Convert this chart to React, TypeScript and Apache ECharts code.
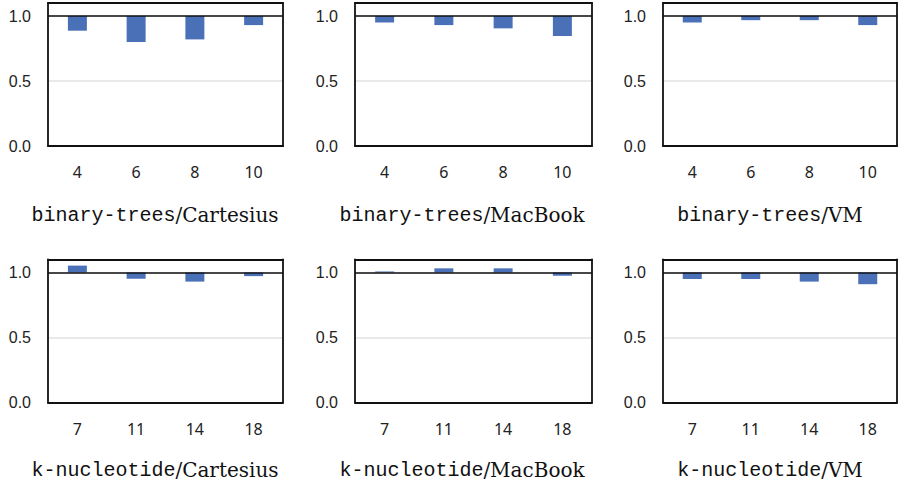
import React, { useEffect, useRef } from "react";
import * as echarts from "echarts";

const catsBT = ["4", "6", "8", "10"];
const catsKN = ["7", "11", "14", "18"];

const btCartesius = [0.887, 0.8, 0.82, 0.93];
const btMacBook = [0.95, 0.93, 0.905, 0.846];
const btVM = [0.95, 0.968, 0.968, 0.93];
const knCartesius = [1.053, 0.952, 0.93, 0.972];
const knMacBook = [1.008, 1.032, 1.032, 0.975];
const knVM = [0.95, 0.95, 0.93, 0.91];

const benchNames = ["binary-trees", "binary-trees", "binary-trees", "k-nucleotide", "k-nucleotide", "k-nucleotide"];
const machineNames = ["Cartesius", "MacBook", "VM", "Cartesius", "MacBook", "VM"];
const yTicks = [0, 0.5, 1.0];

const panels = [
  { cats: catsBT, vals: btCartesius },
  { cats: catsBT, vals: btMacBook },
  { cats: catsBT, vals: btVM },
  { cats: catsKN, vals: knCartesius },
  { cats: catsKN, vals: knMacBook },
  { cats: catsKN, vals: knVM },
];

const colLefts = [48, 355, 663];
const colWidths = [235, 237, 234];
const rowTops = [3, 259.5];
const gridH = 143;
const titleX = [155, 462, 770];
const titleY = [215, 470];

const frameLine = { show: true, onZero: false, lineStyle: { color: "#111", width: 1.8 } };

export default function App() {
  const ref = useRef<HTMLDivElement>(null);
  useEffect(() => {
    if (!ref.current) return;
    const chart = echarts.init(ref.current, undefined, { renderer: "svg" });
    const grids: any[] = [];
    const xAxes: any[] = [];
    const yAxes: any[] = [];
    const series: any[] = [];
    const graphics: any[] = [];
    panels.forEach((p, i) => {
      const r = Math.floor(i / 3);
      const c = i % 3;
      grids.push({
        left: colLefts[c],
        top: rowTops[r],
        width: colWidths[c],
        height: gridH,
      });
      // bottom (data) axis
      xAxes.push({
        type: "category",
        gridIndex: i,
        position: "bottom",
        data: p.cats,
        axisLine: frameLine,
        axisTick: { show: false },
        axisLabel: { margin: 18, fontSize: 16, color: "#222", fontFamily: "Noto Sans" },
      });
      // top frame axis
      xAxes.push({
        type: "category",
        gridIndex: i,
        position: "top",
        data: p.cats,
        axisLine: frameLine,
        axisTick: { show: false },
        axisLabel: { show: false },
      });
      yAxes.push({
        type: "value",
        gridIndex: i,
        position: "left",
        min: 0,
        max: 1.1,
        interval: 0.5,
        axisLine: frameLine,
        axisTick: { show: false },
        splitLine: { show: true, lineStyle: { color: "#e2e2e2", width: 1.5 } },
        axisLabel: {
          margin: 17,
          fontSize: 16,
          color: "#222",
          fontFamily: "Liberation Sans",
          formatter: (v: number) =>
            yTicks.some((t) => Math.abs(t - v) < 1e-6) ? v.toFixed(1) : "",
        },
      });
      yAxes.push({
        type: "value",
        gridIndex: i,
        position: "right",
        min: 0,
        max: 1.1,
        interval: 0.5,
        axisLine: frameLine,
        axisTick: { show: false },
        splitLine: { show: false },
        axisLabel: { show: false },
      });
      series.push({
        type: "bar",
        xAxisIndex: 2 * i,
        yAxisIndex: 2 * i,
        stack: "s" + i,
        barWidth: 19,
        silent: true,
        itemStyle: { color: "transparent" },
        data: p.vals.map((v) => Math.min(v, 1)),
      });
      series.push({
        type: "bar",
        xAxisIndex: 2 * i,
        yAxisIndex: 2 * i,
        stack: "s" + i,
        barWidth: 19,
        silent: true,
        itemStyle: { color: "#4A71B8" },
        data: p.vals.map((v) => Math.abs(v - 1)),
        markLine: {
          silent: true,
          symbol: ["none", "none"],
          label: { show: false },
          lineStyle: { color: "#111", width: 1.6, type: "solid" },
          data: [{ yAxis: 1 }],
        },
      });
      graphics.push({
        type: "text",
        x: titleX[c],
        y: titleY[r],
        style: {
          text: `{m|${benchNames[i]}}{s|/${machineNames[i]}}`,
          align: "center",
          verticalAlign: "middle",
          fill: "#111",
          rich: {
            m: { fontFamily: "Liberation Mono", fontSize: 20, fill: "#111" },
            s: { fontFamily: "DejaVu Serif", fontSize: 20, fill: "#111" },
          },
        },
      });
    });
    chart.setOption({
      animation: false,
      backgroundColor: "#fff",
      grid: grids,
      xAxis: xAxes,
      yAxis: yAxes,
      series,
      graphic: graphics,
    });
    return () => chart.dispose();
  }, []);
  return (
    <div
      ref={ref}
      style={{ position: "absolute", left: 0, top: 0, width: 900, height: 487 }}
    />
  );
}
